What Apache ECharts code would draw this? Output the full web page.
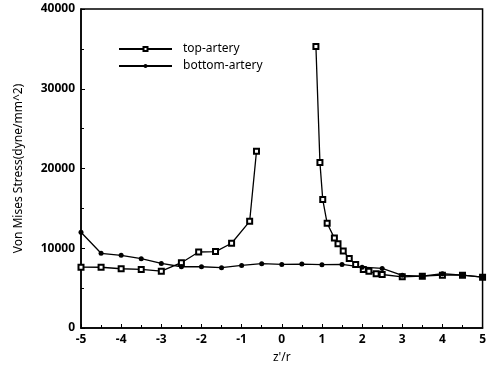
<!DOCTYPE html>
<html>
<head>
<meta charset="utf-8">
<script src="https://cdn.jsdelivr.net/npm/echarts@6/dist/echarts.min.js"></script>
<style>
  html, body { margin: 0; padding: 0; background: #fff; }
  #chart { width: 489px; height: 372px; }
</style>
</head>
<body>
<div id="chart"></div>
<script>
// z'/r positions and stresses (null = gap in the curve)
const topZ = [-5, -4.5, -4, -3.5, -3, -2.5, -2.07, -1.65, -1.25, -0.8, -0.63, null,
  0.85, 0.95, 1.02, 1.13, 1.31, 1.4, 1.53, 1.68, 1.84, 2.03, 2.17, 2.35, 2.5, 3, 3.5, 4, 4.5, 5];
const topStress = [7630, 7620, 7430, 7340, 7130, 8190, 9530, 9580, 10630, 13380, 22150, null,
  35300, 20760, 16100, 13130, 11270, 10550, 9660, 8730, 7970, 7340, 7130, 6800, 6710, 6420, 6500, 6620, 6620, 6370];

const bottomZ = [-5, -4.5, -4, -3.5, -3, -2.5, -2, -1.5, -1, -0.5, 0, 0.5, 1, 1.5, 2, 2.5, 3, 3.5, 4, 4.5, 5];
const bottomStress = [12000, 9370, 9110, 8690, 8100, 7680, 7680, 7560, 7850, 8060, 7970, 8010, 7940, 7970,
  7630, 7470, 6600, 6500, 6800, 6620, 6370];

const xTicks = [-5, -4, -3, -2, -1, 0, 1, 2, 3, 4, 5];
const yTicks = [0, 10000, 20000, 30000, 40000];

const pairs = (xs, ys) => xs.map((x, i) => (x === null ? '-' : [x, ys[i]]));

const font = 'Noto Sans';
const chart = echarts.init(document.getElementById('chart'));
chart.setOption({
  animation: false,
  grid: { left: 81, right: 5, top: 9, bottom: 44, show: true, borderColor: '#000', borderWidth: 1.5 },
  legend: {
    left: 113, top: 38, orient: 'vertical', itemWidth: 53, itemHeight: 5, itemGap: 5,
    textStyle: { fontFamily: font, fontSize: 12, color: '#000', padding: [0, 0, 0, 6] },
    data: ['top-artery', 'bottom-artery']
  },
  xAxis: {
    type: 'value', min: xTicks[0], max: xTicks[xTicks.length - 1], interval: 1,
    name: "z'/r", nameLocation: 'middle', nameGap: 24,
    nameTextStyle: { fontFamily: font, fontSize: 12, color: '#000' },
    axisLine: { onZero: false, lineStyle: { color: '#000', width: 1.5 } },
    axisTick: { inside: true, length: 4, lineStyle: { color: '#000' } },
    minorTick: { show: true, splitNumber: 2, length: 3, lineStyle: { color: '#000' } },
    axisLabel: { fontFamily: font, fontSize: 12, fontWeight: 'bold', color: '#000', margin: 6 },
    splitLine: { show: false }
  },
  yAxis: {
    type: 'value', min: yTicks[0], max: yTicks[yTicks.length - 1], interval: 10000,
    name: 'Von Mises Stress(dyne/mm^2)', nameLocation: 'middle', nameGap: 56, nameRotate: 90,
    nameTextStyle: { fontFamily: font, fontSize: 12, color: '#000' },
    axisLine: { onZero: false, lineStyle: { color: '#000', width: 1.5 } },
    axisTick: { inside: true, length: 4, lineStyle: { color: '#000' } },
    minorTick: { show: true, splitNumber: 2, length: 3, lineStyle: { color: '#000' } },
    axisLabel: { fontFamily: font, fontSize: 12, fontWeight: 'bold', color: '#000', margin: 6,
      formatter: v => String(v) },
    splitLine: { show: false }
  },
  series: [
    {
      name: 'top-artery', type: 'line', data: pairs(topZ, topStress), connectNulls: false,
      symbol: 'emptyRect', symbolSize: 5, showAllSymbol: true,
      lineStyle: { color: '#000', width: 1.3 },
      itemStyle: { color: '#000', borderWidth: 1 }
    },
    {
      name: 'bottom-artery', type: 'line', data: pairs(bottomZ, bottomStress),
      symbol: 'circle', symbolSize: 5, showAllSymbol: true,
      lineStyle: { color: '#000', width: 1.3 },
      itemStyle: { color: '#000' }
    }
  ]
});
</script>
</body>
</html>
